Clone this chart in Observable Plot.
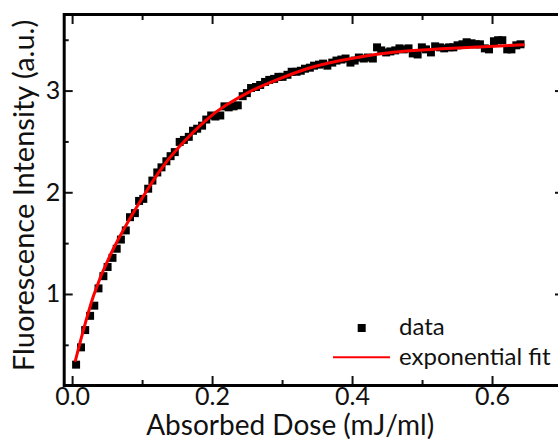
<!DOCTYPE html>
<html><head><meta charset="utf-8">
<script src="https://cdn.jsdelivr.net/npm/d3@7"></script>
<script src="https://cdn.jsdelivr.net/npm/@observablehq/plot@0.6"></script>
<style>
html,body{margin:0;padding:0;background:#fff;overflow:hidden;}
#chart svg{overflow:hidden;display:block;}
</style></head><body><div id="chart"></div>
<script>
const doses = [
  0.005, 0.012, 0.018, 0.025, 0.031, 0.037, 0.044, 0.050, 0.057, 0.063,
  0.069, 0.076, 0.082, 0.089, 0.095, 0.101, 0.108, 0.114, 0.121, 0.127,
  0.134, 0.140, 0.146, 0.153, 0.159, 0.166, 0.172, 0.178, 0.185, 0.191,
  0.198, 0.204, 0.211, 0.217, 0.223, 0.230, 0.236, 0.243, 0.249, 0.255,
  0.262, 0.268, 0.275, 0.281, 0.288, 0.294, 0.300, 0.307, 0.313, 0.320,
  0.326, 0.332, 0.339, 0.345, 0.352, 0.358, 0.364, 0.371, 0.377, 0.384,
  0.390, 0.397, 0.403, 0.409, 0.416, 0.422, 0.429, 0.435, 0.441, 0.448,
  0.454, 0.461, 0.467, 0.473, 0.480, 0.486, 0.493, 0.499, 0.505, 0.512,
  0.518, 0.525, 0.531, 0.538, 0.544, 0.550, 0.557, 0.563, 0.570, 0.576,
  0.582, 0.589, 0.595, 0.602, 0.608, 0.614, 0.621, 0.627, 0.634, 0.640
];
const intensities = [
  0.31, 0.48, 0.65, 0.79, 0.89, 1.06, 1.18, 1.27, 1.36, 1.45,
  1.54, 1.63, 1.76, 1.80, 1.92, 1.94, 2.04, 2.12, 2.20, 2.25,
  2.31, 2.36, 2.40, 2.50, 2.52, 2.55, 2.61, 2.63, 2.66, 2.72,
  2.76, 2.75, 2.76, 2.85, 2.84, 2.85, 2.86, 2.95, 2.98, 3.03,
  3.04, 3.06, 3.09, 3.11, 3.12, 3.14, 3.14, 3.16, 3.19, 3.19,
  3.20, 3.22, 3.23, 3.25, 3.26, 3.27, 3.25, 3.28, 3.30, 3.31,
  3.32, 3.28, 3.30, 3.33, 3.32, 3.33, 3.32, 3.43, 3.40, 3.38,
  3.39, 3.40, 3.42, 3.41, 3.42, 3.37, 3.36, 3.43, 3.41, 3.38,
  3.44, 3.43, 3.42, 3.43, 3.43, 3.45, 3.46, 3.48, 3.47, 3.46,
  3.46, 3.42, 3.41, 3.49, 3.50, 3.50, 3.41, 3.41, 3.45, 3.46
];
const fitDoses = [0.004, 0.03, 0.059, 0.09, 0.123, 0.152, 0.19, 0.219, 0.252, 0.288, 0.335, 0.383, 0.45, 0.542, 0.644];
const fitIntensities = [0.35, 0.99, 1.46, 1.84, 2.20, 2.45, 2.71, 2.86, 2.99, 3.10, 3.22, 3.30, 3.375, 3.42, 3.455];

const xTicks = [0, 0.2, 0.4, 0.6];
const xMinorTicks = [0.1, 0.3, 0.5];
const yTicks = [1, 2, 3];
const yMinorTicks = [0.5, 1.5, 2.5, 3.5];
const xLabel = "Absorbed Dose (mJ/ml)";
const yLabel = "Fluorescence Intensity (a.u.)";
const legendLabels = ["data", "exponential fit"];

const points = doses.map((x, i) => ({x, y: intensities[i]}));
const fit = fitDoses.map((x, i) => ({x, y: fitIntensities[i]}));

const FONT = "Lato, 'Open Sans', sans-serif";
const ink = "#111";
const RED = "#ff0000";

const plot = Plot.plot({
  width: 558, height: 439,
  marginLeft: 63.7, marginRight: -5, marginTop: 14, marginBottom: 54,
  x: {domain: [-0.012, 0.7014]},
  y: {domain: [0.105, 3.753]},
  style: {fontFamily: FONT, fontSize: "25px", color: ink, background: "white"},
  marks: [
    Plot.dot(points, {x: "x", y: "y", symbol: "square", r: 4.5, fill: "black", stroke: null}),
    Plot.line(fit, {x: "x", y: "y", stroke: RED, strokeWidth: 3, curve: "natural"}),
    // tick labels
    Plot.axisX(xTicks, {anchor: "bottom", tickSize: 0, tickPadding: 2, tickFormat: d3.format(".1f"), label: null, fontSize: 25}),
    Plot.axisY(yTicks, {anchor: "left", tickSize: 0, tickPadding: 4, tickFormat: d3.format("d"), label: null, fontSize: 25}),
    // inward ticks
    Plot.axisX(xTicks, {anchor: "bottom", tickSize: -9, strokeWidth: 2, tickFormat: () => "", label: null}),
    Plot.axisX(xMinorTicks, {anchor: "bottom", tickSize: -5, strokeWidth: 2, tickFormat: () => "", label: null}),
    Plot.axisX(xTicks, {anchor: "top", tickSize: -9, strokeWidth: 2, tickFormat: () => "", label: null}),
    Plot.axisX(xMinorTicks, {anchor: "top", tickSize: -5, strokeWidth: 2, tickFormat: () => "", label: null}),
    Plot.axisY(yTicks, {anchor: "left", tickSize: -9, strokeWidth: 2, tickFormat: () => "", label: null}),
    Plot.axisY(yMinorTicks, {anchor: "left", tickSize: -5, strokeWidth: 2, tickFormat: () => "", label: null}),
    Plot.axisY(yTicks, {anchor: "right", tickSize: -9, strokeWidth: 2, tickFormat: () => "", label: null}),
    Plot.axisY(yMinorTicks, {anchor: "right", tickSize: -5, strokeWidth: 2, tickFormat: () => "", label: null}),
    Plot.frame({stroke: "black", strokeWidth: 3}),
    // axis titles
    Plot.text([xLabel], {frameAnchor: "bottom-left", dx: 226, dy: 49, text: d => d, textAnchor: "middle", fontSize: 28, fill: ink}),
    Plot.text([yLabel], {frameAnchor: "left", dx: -39.7, dy: -4.5, text: d => d, rotate: -90, textAnchor: "middle", fontSize: 29, fill: ink})
  ]
});

document.getElementById("chart").appendChild(plot);

// legend (inside plot area, bottom right)
const svg = d3.select(plot.tagName.toLowerCase() === "svg" ? plot : plot.querySelector("svg"));
const lg = svg.append("g").attr("font-family", FONT).attr("font-size", 24).attr("fill", ink).attr("text-anchor", "start");
lg.append("rect").attr("x", 357.7).attr("y", 324).attr("width", 8).attr("height", 8).attr("fill", "black");
lg.append("text").attr("x", 399).attr("y", 335).attr("text-anchor", "start").text(legendLabels[0]);
lg.append("line").attr("x1", 333).attr("x2", 390).attr("y1", 357.3).attr("y2", 357.3).attr("stroke", RED).attr("stroke-width", 2);
lg.append("text").attr("x", 399).attr("y", 365).attr("text-anchor", "start").text(legendLabels[1]);
</script>
</body></html>
